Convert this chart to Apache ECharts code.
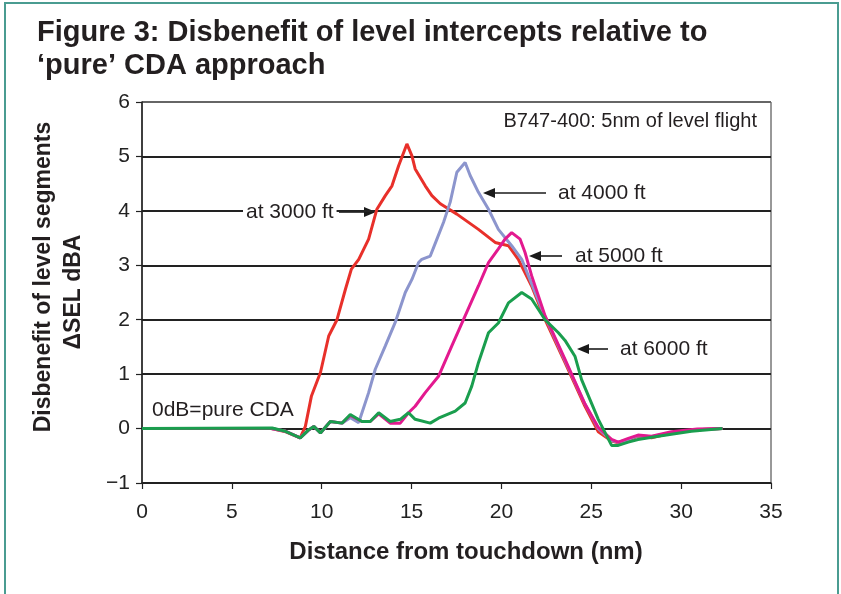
<!DOCTYPE html>
<html><head><meta charset="utf-8">
<script src="https://cdn.jsdelivr.net/npm/echarts@6/dist/echarts.min.js"></script>
<style>html,body{margin:0;padding:0;background:#fff}#c{width:841px;height:594px}</style>
</head><body><div id="c"></div>
<script>
// Distance from touchdown (nm), disbenefit ΔSEL dBA
const ft3000 = [[0,0],[3,0],[7.2,0],[8,-0.06],[8.8,-0.17],[9.09,0.04],[9.43,0.6],[9.93,1.03],[10.39,1.7],[10.85,2.0],[11.32,2.56],[11.65,2.93],[12.06,3.11],[12.61,3.48],[13.07,4.03],[13.54,4.28],[13.91,4.46],[14.28,4.83],[14.74,5.23],[15.02,5.01],[15.2,4.77],[15.76,4.46],[16.13,4.28],[16.6,4.13],[17.52,3.94],[18.72,3.66],[19.65,3.42],[20.39,3.36],[20.94,3.11],[21.68,2.62],[22.43,2.0],[23.54,1.21],[24.65,0.41],[25.39,-0.06],[26.13,-0.23],[26.5,-0.26],[27.0,-0.22],[27.6,-0.14],[28.35,-0.17],[29.46,-0.08],[30.9,-0.02],[32.3,0.0]];
const ft4000 = [[0,0],[7.2,0],[8,-0.05],[8.8,-0.17],[9.3,-0.02],[9.56,0.04],[9.93,-0.08],[10.48,0.13],[11.13,0.1],[11.59,0.2],[12.06,0.11],[12.24,0.29],[12.61,0.66],[12.98,1.09],[13.54,1.52],[14.09,1.95],[14.65,2.5],[15.02,2.74],[15.39,3.05],[15.57,3.11],[16.04,3.17],[16.41,3.48],[16.78,3.79],[17.15,4.16],[17.52,4.71],[17.98,4.89],[18.26,4.65],[18.72,4.34],[19.28,4.03],[19.83,3.66],[20.57,3.36],[21.13,3.11],[21.68,2.66],[22.43,2.05],[23.54,1.25],[24.65,0.45],[25.39,0.0],[26.13,-0.22],[26.5,-0.25],[27.06,-0.2],[27.6,-0.13],[28.35,-0.15],[29.46,-0.07],[30.9,-0.02],[32.3,0]];
const ft5000 = [[0,0],[7.2,0],[8,-0.05],[8.8,-0.17],[9.3,-0.02],[9.56,0.04],[9.93,-0.08],[10.48,0.13],[11.13,0.1],[11.59,0.24],[12.24,0.13],[12.7,0.13],[13.17,0.27],[13.81,0.1],[14.37,0.1],[14.83,0.29],[15.2,0.41],[15.76,0.66],[16.5,0.96],[17.24,1.52],[17.98,2.07],[18.72,2.62],[19.28,3.05],[19.83,3.3],[20.2,3.48],[20.57,3.6],[21.04,3.48],[21.31,3.24],[21.68,2.81],[22.43,2.07],[23.54,1.27],[24.65,0.45],[25.39,0.02],[26.13,-0.2],[26.5,-0.25],[27.06,-0.18],[27.6,-0.12],[28.35,-0.14],[29.46,-0.06],[30.9,-0.01],[32.3,0]];
const ft6000 = [[0,0],[7.24,0.01],[7.98,-0.05],[8.81,-0.17],[9.28,-0.02],[9.56,0.04],[9.93,-0.08],[10.48,0.13],[11.13,0.1],[11.59,0.26],[12.24,0.13],[12.7,0.13],[13.17,0.29],[13.81,0.13],[14.37,0.17],[14.83,0.29],[15.2,0.17],[16.04,0.1],[16.5,0.19],[17.43,0.32],[17.98,0.47],[18.35,0.78],[18.72,1.21],[19.28,1.76],[19.83,1.94],[20.39,2.31],[21.13,2.5],[21.68,2.38],[22.43,2.0],[23.17,1.76],[23.54,1.62],[24.09,1.33],[24.46,0.9],[25.39,0.17],[26.13,-0.31],[26.5,-0.31],[27.06,-0.25],[27.6,-0.2],[28.72,-0.14],[30.57,-0.05],[32.3,0]];
const seriesNames = ['at 3000 ft','at 4000 ft','at 5000 ft','at 6000 ft'];
const seriesData = [ft3000, ft4000, ft5000, ft6000];
const seriesColors = ['#e8302a','#8c95cd','#e3198f','#1a9e4e'];
const xTicks = {min:0, max:35, interval:5};
const yTicks = {min:-1, max:6, interval:1};

const chart = echarts.init(document.getElementById('c'), null, {renderer:'canvas'});
const F = "'Liberation Sans', Arial, sans-serif";
const arrow = (x1, x2, y) => {
  const dir = x2 > x1 ? 1 : -1;
  return [
    {type:'line', shape:{x1:x1, y1:y, x2:x2 - dir*9, y2:y}, style:{stroke:'#1a1a1a', lineWidth:1.6}},
    {type:'polygon', shape:{points:[[x2,y],[x2-dir*12,y-5],[x2-dir*12,y+5]]}, style:{fill:'#1a1a1a'}}
  ];
};
chart.setOption({
  backgroundColor:'#fff',
  animation:false,
  grid:{left:142, right:70, top:102, bottom:111, show:true, borderColor:'#333', borderWidth:1},
  xAxis:{type:'value', min:xTicks.min, max:xTicks.max, interval:xTicks.interval,
    axisLine:{show:true, onZero:false, lineStyle:{color:'#222', width:1.5}},
    axisTick:{show:true, length:6, lineStyle:{color:'#222', width:1.2}},
    axisLabel:{fontFamily:F, fontSize:21, color:'#222', margin:19},
    splitLine:{show:false}},
  yAxis:{type:'value', min:yTicks.min, max:yTicks.max, interval:yTicks.interval,
    axisLine:{show:true, onZero:false, lineStyle:{color:'#222', width:1.5}},
    axisTick:{show:true, length:6, lineStyle:{color:'#222', width:1.2}},
    axisLabel:{fontFamily:F, fontSize:21, color:'#222', margin:12, formatter:v => v < 0 ? '\u2212' + Math.abs(v) : String(v)},
    splitLine:{show:true, lineStyle:{color:['#222','#222','#222','#222','#222','#222','#222','#666'], width:1.8}}},
  series: seriesData.map((d,i) => ({
    name:seriesNames[i], type:'line', data:d, showSymbol:false, symbol:'none',
    lineStyle:{color:seriesColors[i], width:3}, z:2+i
  })),
  graphic:[
    {type:'rect', shape:{x:5, y:3, width:833, height:600}, style:{fill:'none', stroke:'#4a9c91', lineWidth:2}, silent:true},
    {type:'text', left:37, top:18, style:{text:'Figure 3: Disbenefit of level intercepts relative to', font:"bold 29px 'Liberation Sans', Arial, sans-serif", fill:'#231f20'}},
    {type:'text', left:37, top:51, style:{text:'\u2018pure\u2019 CDA approach', font:"bold 29px 'Liberation Sans', Arial, sans-serif", fill:'#231f20'}},
    {type:'text', x:44, y:277, rotation:Math.PI/2, style:{text:'Disbenefit of level segments', font:"bold 23px 'Liberation Sans', Arial, sans-serif", fill:'#231f20', align:'center', verticalAlign:'middle'}},
    {type:'text', x:74, y:292, rotation:Math.PI/2, style:{text:'\u0394SEL dBA', font:"bold 23px 'Liberation Sans', Arial, sans-serif", fill:'#231f20', align:'center', verticalAlign:'middle'}},
    {type:'text', x:466, y:552, style:{text:'Distance from touchdown (nm)', font:"bold 24px 'Liberation Sans', Arial, sans-serif", fill:'#231f20', align:'center', verticalAlign:'middle'}},
    {type:'text', x:757, y:121, style:{text:'B747-400: 5nm of level flight', font:"20px 'Liberation Sans', Arial, sans-serif", fill:'#231f20', align:'right', verticalAlign:'middle'}},
    {type:'text', x:152, y:410, style:{text:'0dB=pure CDA', font:"21px 'Liberation Sans', Arial, sans-serif", fill:'#231f20', align:'left', verticalAlign:'middle'}},
    {type:'text', x:243, y:212, z:10, style:{text:'at 3000 ft', font:"21px 'Liberation Sans', Arial, sans-serif", fill:'#231f20', align:'left', verticalAlign:'middle', backgroundColor:'#fff', padding:[2,3]}},
    ...arrow(339, 376, 212),
    ...arrow(546, 483, 193),
    {type:'text', x:558, y:193, style:{text:'at 4000 ft', font:"21px 'Liberation Sans', Arial, sans-serif", fill:'#231f20', align:'left', verticalAlign:'middle'}},
    ...arrow(562, 529, 256),
    {type:'text', x:573, y:256, style:{text:'at 5000 ft', font:"21px 'Liberation Sans', Arial, sans-serif", fill:'#231f20', align:'left', verticalAlign:'middle', backgroundColor:'#fff', padding:[2,2]}},
    ...arrow(608, 577, 349),
    {type:'text', x:620, y:349, style:{text:'at 6000 ft', font:"21px 'Liberation Sans', Arial, sans-serif", fill:'#231f20', align:'left', verticalAlign:'middle'}}
  ]
});
</script></body></html>
